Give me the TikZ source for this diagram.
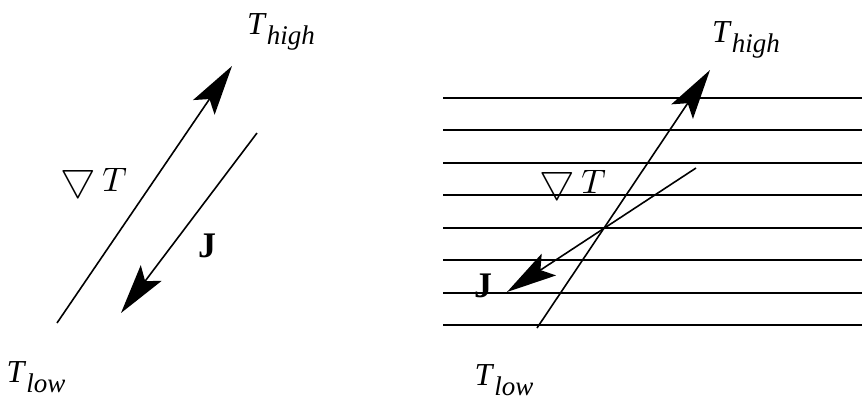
\documentclass[tikz,border=0pt]{standalone}
\usepackage{fontspec}
\setmainfont{Liberation Serif}
\usetikzlibrary{arrows.meta}
\begin{document}
\begin{tikzpicture}[x=1pt,y=-1pt,
  vec/.style={line width=1.6pt,-{Stealth[length=50pt,width=26pt,inset=10pt]}},
  layer/.style={line width=1.1pt},
  tlabel/.style={inner sep=0pt,font=\fontsize{32}{34}\selectfont},
  mlabel/.style={inner sep=0pt}]
\useasboundingbox (0,0) rectangle (862,405);
% left panel
\coordinate (a1) at (57,323);
\coordinate (a2) at (232,66);
\coordinate (b1) at (257,133);
\coordinate (b2) at (121,313);
\draw[vec] (a1) -- (a2);
\draw[vec] (b1) -- (b2);
\node[tlabel] (th1) at (281,32) {\textit{T}\raisebox{-0.3em}{\fontsize{27}{29}\selectfont\textit{high}}};
\node[tlabel] (tl1) at (36,377) {\textit{T}\raisebox{-0.3em}{\fontsize{27}{29}\selectfont\textit{low}}};
\node[mlabel] (g1) at (94,180) {\raisebox{1pt}{\scalebox{4}{$\bigtriangledown$}}\hspace{6pt}\scalebox{3.4}{$T$}};
\node[mlabel] (j1) at (207,246) {\fontsize{36}{38}\selectfont\textbf{J}};
% right panel
\foreach \i/\y in {1/98,2/130,3/163,4/195,5/228,6/260,7/293,8/325} {
  \coordinate (l\i) at (443,\y);
  \coordinate (r\i) at (862,\y);
  \draw[layer] (l\i) -- (r\i);
}
\coordinate (c1) at (537,328);
\coordinate (c2) at (710,70);
\coordinate (d1) at (696,168);
\coordinate (d2) at (507,292);
\draw[vec] (c1) -- (c2);
\draw[vec] (d1) -- (d2);
\node[tlabel] (th2) at (746,40) {\textit{T}\raisebox{-0.3em}{\fontsize{27}{29}\selectfont\textit{high}}};
\node[tlabel] (tl2) at (504,380) {\textit{T}\raisebox{-0.3em}{\fontsize{27}{29}\selectfont\textit{low}}};
\node[mlabel] (g2) at (573,182) {\raisebox{1pt}{\scalebox{4}{$\bigtriangledown$}}\hspace{6pt}\scalebox{3.4}{$T$}};
\node[mlabel] (j2) at (483,286) {\fontsize{36}{38}\selectfont\textbf{J}};
\end{tikzpicture}
\end{document}
